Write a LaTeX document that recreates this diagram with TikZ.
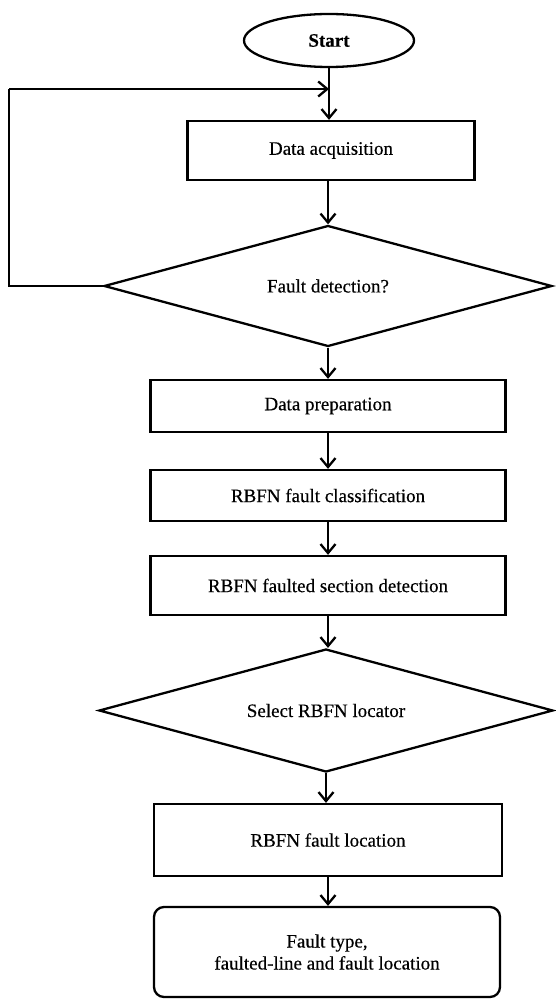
\documentclass[tikz,border=0pt]{standalone}
\usepackage{fontspec}
\setmainfont[FakeBold=0.4]{Liberation Serif}
\usetikzlibrary{shapes.geometric,arrows.meta}
\begin{document}
\begin{tikzpicture}[x=1pt,y=-1pt,
  every node/.style={font=\fontsize{19}{22}\selectfont, align=center, inner sep=0pt},
  shape border/.style={draw, line width=2.3pt},
  terminal/.style={shape border, ellipse, minimum width=170pt, minimum height=53pt},
  process/.style={shape border, rectangle, minimum width=#1},
  decision/.style={shape border, diamond, aspect=3.6},
  result/.style={shape border, rectangle, rounded corners=10pt},
  flow/.style={line width=2.3pt, -{Straight Barb[length=9pt, width=15pt]}},
  plain/.style={line width=2.3pt}
]
\useasboundingbox (0,0) rectangle (555,1000);

% flowchart blocks
\node[terminal] (start) at (329,40.5) {\bfseries Start};
\node[process=287pt, minimum height=59pt] (acq) at (331,150.5) {Data acquisition};
\node[decision, minimum width=448pt, minimum height=121pt] (detect) at (328,286) {Fault detection?};
\node[process=355pt, minimum height=52pt] (prep) at (328,406) {Data preparation};
\node[process=355pt, minimum height=51pt] (class) at (328,495.5) {RBFN fault classification};
\node[process=355pt, minimum height=59pt] (sect) at (328,585.5) {RBFN faulted section detection};
\node[decision, minimum width=454pt, minimum height=123pt] (select) at (326,710.5) {Select RBFN locator};
\node[process=348pt, minimum height=72pt] (loc) at (328,840) {RBFN fault location};
\node[result, minimum width=346pt, minimum height=90pt] (out) at (327,952) {Fault type,\\faulted-line and fault location};

% feedback loop back to acquisition
\coordinate (loopcorner) at (9,89);
\coordinate (join) at (329,89);
\draw[plain] (detect.west) -| (loopcorner);
\draw[flow] (loopcorner) -- (join);

% main connectors
\draw[flow] (start.south) -- (start.south |- acq.north);
\draw[flow] (detect.north |- acq.south) -- (detect.north);
\draw[flow] (detect.south) -- (prep.north);
\draw[flow] (prep.south) -- (class.north);
\draw[flow] (class.south) -- (sect.north);
\draw[flow] (sect.south) -- (sect.south |- select.north);
\draw[flow] (select.south) -- (select.south |- loc.north);
\draw[flow] (loc.south) -- (loc.south |- out.north);
\end{tikzpicture}
\end{document}
